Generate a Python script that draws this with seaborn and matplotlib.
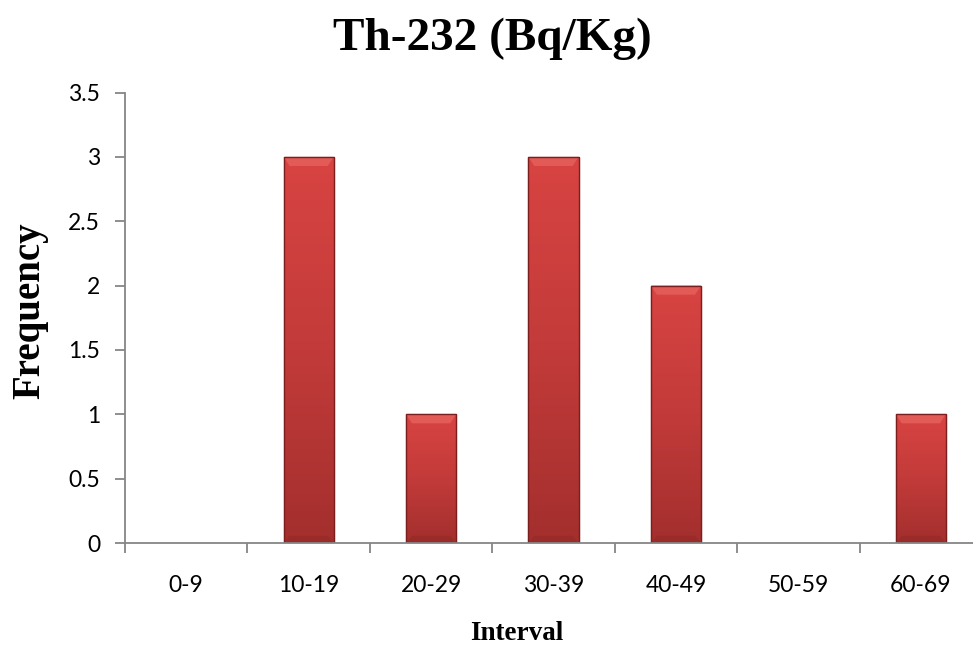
import matplotlib
matplotlib.use("Agg")
import matplotlib.pyplot as plt
import seaborn as sns
import numpy as np
import pandas as pd
from matplotlib.colors import LinearSegmentedColormap

categories = ["0-9", "10-19", "20-29", "30-39", "40-49", "50-59", "60-69"]
frequency = [0, 3, 1, 3, 2, 0, 1]
y_ticks = [0, 0.5, 1, 1.5, 2, 2.5, 3, 3.5]
y_tick_labels = ["0", "0.5", "1", "1.5", "2", "2.5", "3", "3.5"]

df = pd.DataFrame({"Interval": categories, "Frequency": frequency})

sns.set_theme(style="white")
plt.rcParams["font.family"] = ["Lato", "DejaVu Sans"]
plt.rcParams["text.color"] = "black"

fig = plt.figure(figsize=(9.73, 6.49), dpi=100)
ax = fig.add_axes([125/973, 1 - 543/649, (982 - 125)/973, (543 - 92.6)/649])

sns.barplot(data=df, x="Interval", y="Frequency", color="#c0392b", width=0.41,
            ax=ax, saturation=1, edgecolor="#8a2424", linewidth=0.8)

cmap = LinearSegmentedColormap.from_list("barred", ["#a32f2d", "#c23b3a", "#d84442"])
grad = np.linspace(0, 1, 256).reshape(-1, 1)
for p in list(ax.patches):
    h = p.get_height()
    if h <= 0:
        continue
    x0 = p.get_x(); w = p.get_width()
    z = p.get_zorder()
    im = ax.imshow(grad, cmap=cmap, origin="lower", aspect="auto",
                   extent=[x0, x0 + w, 0, h], zorder=z + 0.1)
    im.set_clip_path(p)
    bh = 0.07
    inset = w * 0.12
    ax.fill([x0, x0 + w, x0 + w - inset, x0 + inset], [h, h, h - bh, h - bh],
            color="#e35b57", zorder=z + 0.2, lw=0)
    ax.fill([x0, x0 + w, x0 + w - inset, x0 + inset], [0, 0, bh * 0.8, bh * 0.8],
            color="#9a2b29", zorder=z + 0.2, lw=0)
    ax.add_patch(plt.Rectangle((x0, 0), w, h, fill=False, edgecolor="#7a1f1e",
                               lw=1.0, zorder=z + 0.3))

ax.set_xlim(-0.5, len(categories) - 0.5)
ax.set_ylim(0, 3.5)
ax.set_yticks(y_ticks)
ax.set_yticklabels(y_tick_labels)
ax.set_xticks(range(len(categories)))
ax.set_xticklabels(categories)
ax.set_xticks(np.arange(-0.5, len(categories), 1.0), minor=True)
ax.set_xlabel("")
ax.set_ylabel("")

spine_c = "#868686"
for s in ["top", "right"]:
    ax.spines[s].set_visible(False)
for s in ["left", "bottom"]:
    ax.spines[s].set_color(spine_c)
    ax.spines[s].set_linewidth(1.3)

ax.tick_params(axis="x", which="major", length=0, pad=23, labelsize=16.5, labelcolor="black")
ax.tick_params(axis="x", which="minor", length=7, width=1.3, color=spine_c, direction="out", bottom=True)
ax.tick_params(axis="y", which="major", length=7, width=1.3, color=spine_c, direction="out",
               pad=11, labelsize=16.5, labelcolor="black", left=True)

fig.text(517/973, 1 - 633/649, "Interval", fontsize=19.5, fontweight="bold",
         family="Liberation Serif", ha="center", va="center", color="black")
fig.text(30/973, 1 - 311/649, "Frequency", fontsize=28, fontweight="bold", rotation=90,
         family="Liberation Serif", ha="center", va="center", color="black")
fig.text(492/973, 1 - 50/649, "Th-232 (Bq/Kg)", fontsize=34, fontweight="bold",
         family="Liberation Serif", ha="center", va="baseline", color="black")

fig.savefig("out.png", dpi=100)
